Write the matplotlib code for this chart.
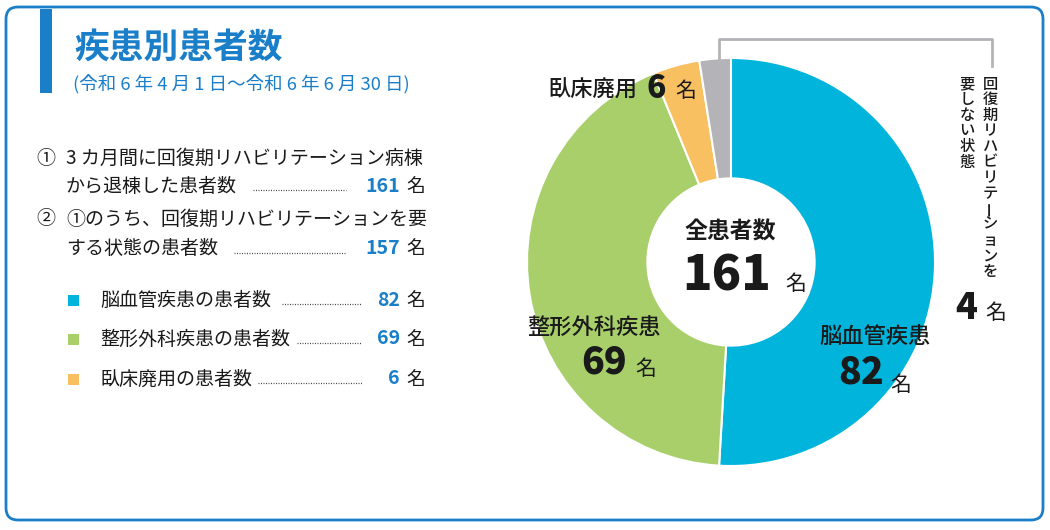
import matplotlib
matplotlib.use("Agg")
import matplotlib.pyplot as plt
from matplotlib.patches import FancyBboxPatch, Rectangle

plt.rcParams['font.family'] = ['Noto Sans CJK JP', 'DejaVu Sans']

# data
categories = ['脳血管疾患', '整形外科疾患', '臥床廃用', '回復期リハビリテーションを要しない状態']
counts = [82, 69, 6, 4]
colors = ['#00b4dc', '#a8cf6a', '#f8c061', '#b4b4b8']
total = 161
rehab_need = 157
legend_rows = ['脳血管疾患の患者数', '整形外科疾患の患者数', '臥床廃用の患者数']

BLUE = '#1a7fc8'
DARK = '#1a1a1a'

fig = plt.figure(figsize=(10.5, 5.3), dpi=100)

# donut
W, H = 1050, 530
cx, cy, r = 731, 262, 204
pax = fig.add_axes([(cx - r) / W, (H - cy - r) / H, 2 * r / W, 2 * r / H])
pax.pie(counts, colors=colors, startangle=90, counterclock=False, radius=1,
        wedgeprops=dict(width=0.59, edgecolor='white', linewidth=1.5))
pax.set_xlim(-1, 1)
pax.set_ylim(-1, 1)
pax.set_aspect('equal')
pax.axis('off')

# overlay in pixel coordinates
ax = fig.add_axes([0, 0, 1, 1], zorder=5)
ax.set_xlim(0, W)
ax.set_ylim(H, 0)
ax.axis('off')
ax.patch.set_alpha(0)

ax.add_patch(FancyBboxPatch((6, 7), 1037, 513, boxstyle='round,pad=0,rounding_size=12',
                            fc='none', ec=BLUE, lw=2))
ax.add_patch(Rectangle((40, 9), 12, 84, fc=BLUE, ec='none'))

ax.text(74, 48, '疾患別患者数', fontsize=25, fontweight='bold', color=BLUE, va='center')
ax.text(73, 84, '(令和 6 年 4 月 1 日～令和 6 年 6 月 30 日)', fontsize=13.3, color=BLUE, va='center')

# left description
fs = 13.7
ax.text(36, 158, '①', fontsize=fs, color=DARK, va='center')
ax.text(66, 158, '3 カ月間に回復期リハビリテーション病棟', fontsize=fs, color=DARK, va='center')
ax.text(66, 186, 'から退棟した患者数', fontsize=fs, color=DARK, va='center')
ax.text(36, 219, '②', fontsize=fs, color=DARK, va='center')
ax.text(66, 219, '①のうち、回復期リハビリテーションを要', fontsize=fs, color=DARK, va='center')
ax.text(66, 248, 'する状態の患者数', fontsize=fs, color=DARK, va='center')

def leader(x0, x1, y):
    ax.plot([x0, x1], [y, y], color='#444444', lw=0.9, linestyle=(0, (0.8, 1.2)))

def value(v, y, x=400):
    ax.text(x, y, str(v), fontsize=14, fontweight='bold', color=BLUE, ha='right', va='center')
    ax.text(406, y, '名', fontsize=13.5, color=DARK, ha='left', va='center')

leader(253, 346, 190)
value(total, 186)
leader(234, 346, 253)
value(rehab_need, 248)

row_y = [300, 339, 379]
leader_x0 = [282, 297, 258]
for i, (lab, y) in enumerate(zip(legend_rows, row_y)):
    ax.add_patch(Rectangle((68, y - 5), 11, 11, fc=colors[i], ec='none'))
    ax.text(100, y, lab, fontsize=fs, color=DARK, va='center')
    leader(leader_x0[i], 362, y + 4)
    value(counts[i], y)

# labels on donut
ax.text(730, 232, '全患者数', fontsize=16.5, fontweight='bold', color=DARK, ha='center', va='center')
ax.text(727, 276, str(total), fontsize=35, fontweight='heavy', color=DARK, ha='center', va='center')
ax.text(785, 284, '名', fontsize=15, color=DARK, ha='left', va='center')

ax.text(875, 336, categories[0], fontsize=16, fontweight='medium', color=DARK, ha='center', va='center')
ax.text(861, 372, str(counts[0]), fontsize=27, fontweight='heavy', color=DARK, ha='center', va='center')
ax.text(890, 385, '名', fontsize=15, color=DARK, ha='left', va='center')

ax.text(594, 328, categories[1], fontsize=16, fontweight='medium', color=DARK, ha='center', va='center')
ax.text(604, 362, str(counts[1]), fontsize=27, fontweight='heavy', color=DARK, ha='center', va='center')
ax.text(635, 369, '名', fontsize=15, color=DARK, ha='left', va='center')

ax.text(548, 90, categories[2], fontsize=16, fontweight='medium', color=DARK, ha='left', va='center')
ax.text(656, 88, str(counts[2]), fontsize=23, fontweight='heavy', color=DARK, ha='center', va='center')
ax.text(675, 91, '名', fontsize=15, color=DARK, ha='left', va='center')

# bracket for the grey slice
ax.plot([719, 719, 992, 992], [60, 39, 39, 66], color='#b4b4b8', lw=2)

def vertical(s, x, y0, step=15.6):
    for k, ch in enumerate(s):
        rot = 90 if ch == 'ー' else 0
        ax.text(x, y0 + k * step, ch, fontsize=11, fontweight='medium', color=DARK,
                ha='center', va='center', rotation=rot)

vertical('回復期リハビリテーションを', 990, 84)
vertical('要しない状態', 967, 84)

ax.text(966, 308, str(counts[3]), fontsize=26, fontweight='heavy', color=DARK, ha='center', va='center')
ax.text(985, 313, '名', fontsize=15, color=DARK, ha='left', va='center')

fig.savefig('out.png', dpi=100)
